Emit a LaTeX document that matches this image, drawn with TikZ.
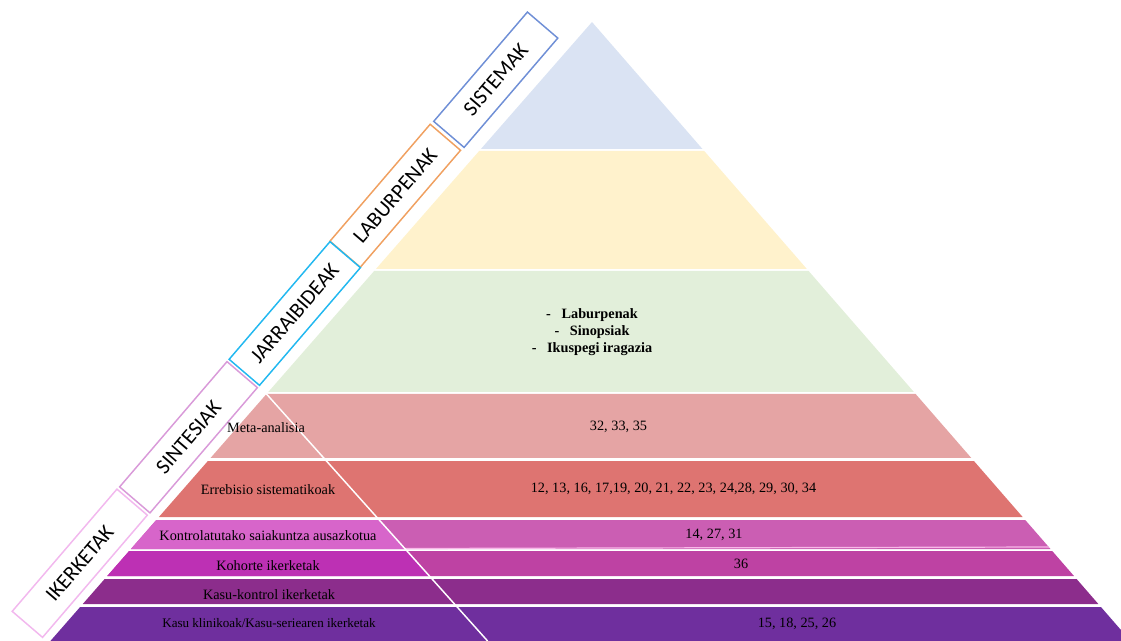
\documentclass[tikz,border=0pt]{standalone}
\usepackage{fontspec}
\setmainfont{Liberation Serif}
\newfontfamily\carlito{Carlito}
\definecolor{cBlue}{HTML}{DAE3F3}
\definecolor{cYellow}{HTML}{FFF2CC}
\definecolor{cGreen}{HTML}{E2EFDA}
\definecolor{cMeta}{HTML}{E5A4A4}
\definecolor{cErre}{HTML}{DE7471}
\definecolor{cKontR}{HTML}{CB5EB3}
\definecolor{cKontL}{HTML}{D765CA}
\definecolor{cKohR}{HTML}{BE42A3}
\definecolor{cKohL}{HTML}{BD30B4}
\definecolor{cKasK}{HTML}{8C2D8C}
\definecolor{cKlin}{HTML}{6F2F9E}
\definecolor{bSis}{HTML}{6F8FD6}
\definecolor{bLab}{HTML}{F0A060}
\definecolor{bJar}{HTML}{21B8F0}
\definecolor{bSin}{HTML}{D99AD9}
\definecolor{bIke}{HTML}{F2B8EE}
\definecolor{pinkline}{HTML}{F8B8E8}
\newcommand\pband[3]{\fill[#3] ({592-0.875*(#1-22)},#1) -- ({592+0.87*(#1-22)},#1) -- ({592+0.87*(#2-22)},#2) -- ({592-0.875*(#2-22)},#2) -- cycle;}
\newcommand\pleftpart[3]{\fill[#3] ({592-0.875*(#1-22)},#1) -- ({266.5+0.895*(#1-394)},#1) -- ({266.5+0.895*(#2-394)},#2) -- ({592-0.875*(#2-22)},#2) -- cycle;}
\tikzset{
  sidebox/.style={draw, line width=1.1pt, fill=white, rotate=49.4, minimum height=30pt, inner sep=0pt, font=\carlito\fontsize{16}{18}\selectfont},
  lvl/.style={font=\fontsize{10.7}{12}\selectfont, inner sep=0pt, text=black},
  numtxt/.style={font=\fontsize{10.7}{12}\selectfont, inner sep=0pt, text=black}
}
\begin{document}
\begin{tikzpicture}[x=0.75pt,y=-0.75pt]
\useasboundingbox (0,0) rectangle (1121,641);
\clip (0,0) rectangle (1121,641);
% pyramid bands
\fill[cBlue] (592,22) -- ({592+0.87*(149-22)},149) -- ({592-0.875*(149-22)},149) -- cycle;
\pband{151}{269}{cYellow}
\pband{271}{392}{cGreen}
\pband{394}{458}{cMeta}
\pband{461}{517}{cErre}
\pband{520}{549}{cKontR}
\pleftpart{520}{549}{cKontL}
\pband{551}{576}{cKohR}
\pleftpart{551}{576}{cKohL}
\pband{579}{604}{cKasK}
\pband{607}{645}{cKlin}
\draw[pinkline, line width=0.9pt] ({266.5+0.895*(548.5-394)},548.5) -- ({592+0.87*(547-22)},547);
\draw[white, line width=1.1pt] (266.5,394) -- (487.6,641);
% side boxes
\node[sidebox, draw=bSis, minimum width=108pt] (sis) at (495.75,79.75) {SISTEMAK};
\node[sidebox, draw=bLab, minimum width=115.5pt] (lab) at (395.25,195.75) {LABURPENAK};
\node[sidebox, draw=bJar, minimum width=116.25pt] (jar) at (294.75,313.5) {JARRAIBIDEAK};
\node[sidebox, draw=bSin, minimum width=123.75pt] (sin) at (188.5,437.25) {SINTESIAK};
\node[sidebox, draw=bIke, minimum width=120.75pt] (ike) at (79.75,563.25) {IKERKETAK};
% green list
\node[lvl, font=\bfseries\fontsize{10.7}{12.75}\selectfont, align=center] (list) at (592,332)
  {-\hspace{8pt}Laburpenak\\-\hspace{8pt}Sinopsiak\\-\hspace{8pt}Ikuspegi iragazia};
% level labels
\node[lvl] (meta) at (266,428) {Meta-analisia};
\node[lvl] (erre) at (268,490) {Errebisio sistematikoak};
\node[lvl] (kont) at (268,536) {Kontrolatutako saiakuntza ausazkotua};
\node[lvl] (koh) at (268,566) {Kohorte ikerketak};
\node[lvl] (kask) at (269,595) {Kasu-kontrol ikerketak};
\node[lvl, font=\fontsize{9.8}{11}\selectfont] (klin) at (269,623) {Kasu klinikoak/Kasu-seriearen ikerketak};
% numbers
\node[numtxt] (n1) at (618.5,427) {32, 33, 35};
\node[numtxt] (n2) at (673.5,489) {12, 13, 16, 17,19, 20, 21, 22, 23, 24,28, 29, 30, 34};
\node[numtxt] (n3) at (714,535) {14, 27, 31};
\node[numtxt] (n4) at (741,564) {36};
\node[numtxt] (n5) at (797,624) {15, 18, 25, 26};
\end{tikzpicture}
\end{document}
